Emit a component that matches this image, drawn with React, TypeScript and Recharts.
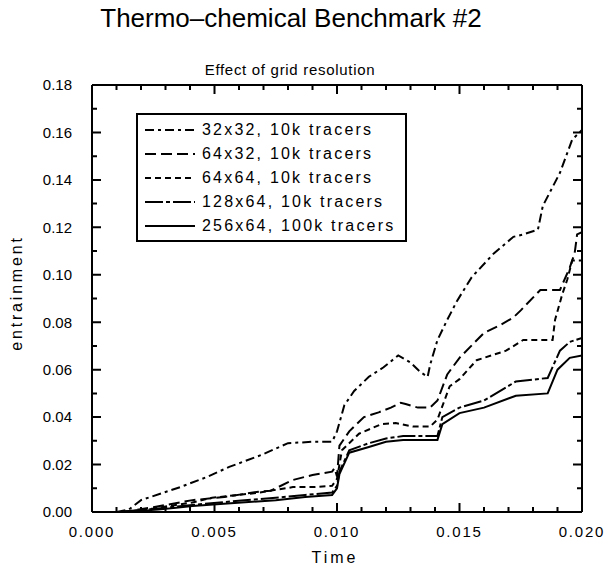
import { LineChart, Line, XAxis, YAxis } from "recharts";

// time values (s) and entrainment per run
const t32x32 = [0.001, 0.0015, 0.002, 0.0036, 0.0047, 0.0056, 0.0069, 0.008, 0.009, 0.0098, 0.01, 0.0103, 0.0107, 0.0113, 0.0119, 0.0125, 0.013, 0.0134, 0.0137, 0.0138, 0.0141, 0.0145, 0.0149, 0.0155, 0.0164, 0.0172, 0.0176, 0.0182, 0.0184, 0.0191, 0.0196, 0.02];
const v32x32 = [0, 0.001, 0.005, 0.0105, 0.0148, 0.019, 0.024, 0.029, 0.0296, 0.0296, 0.034, 0.045, 0.051, 0.057, 0.061, 0.066, 0.063, 0.059, 0.057, 0.062, 0.0725, 0.081, 0.089, 0.099, 0.109, 0.116, 0.117, 0.119, 0.129, 0.143, 0.157, 0.161];

const t64x32 = [0.0012, 0.0025, 0.0041, 0.0054, 0.0067, 0.0073, 0.0082, 0.009, 0.0098, 0.0099, 0.01, 0.0101, 0.0105, 0.0111, 0.0117, 0.0122, 0.0126, 0.0128, 0.0133, 0.0138, 0.0141, 0.0145, 0.015, 0.016, 0.0167, 0.0172, 0.0175, 0.0183, 0.0191, 0.0195, 0.0197, 0.0198, 0.02];
const v64x32 = [0, 0.002, 0.005, 0.0063, 0.0084, 0.009, 0.0135, 0.0156, 0.017, 0.0185, 0.015, 0.028, 0.034, 0.04, 0.042, 0.044, 0.046, 0.0455, 0.044, 0.044, 0.047, 0.058, 0.065, 0.0755, 0.079, 0.082, 0.085, 0.0936, 0.0936, 0.103, 0.109, 0.117, 0.118];

const t64x64 = [0.0012, 0.0025, 0.0041, 0.0049, 0.0067, 0.0082, 0.009, 0.0098, 0.01, 0.0102, 0.0109, 0.0118, 0.0124, 0.0131, 0.0138, 0.0141, 0.0146, 0.015, 0.0157, 0.0169, 0.0176, 0.0188, 0.0189, 0.0192, 0.0194, 0.0196, 0.02];
const v64x64 = [0, 0.0015, 0.004, 0.006, 0.008, 0.0105, 0.0105, 0.011, 0.014, 0.026, 0.033, 0.037, 0.0375, 0.036, 0.036, 0.039, 0.053, 0.056, 0.064, 0.068, 0.0725, 0.0725, 0.081, 0.092, 0.098, 0.106, 0.106];

const t128x64 = [0.0012, 0.0027, 0.0041, 0.0061, 0.0075, 0.0087, 0.0098, 0.01, 0.0101, 0.0105, 0.0113, 0.012, 0.0127, 0.0141, 0.0143, 0.015, 0.016, 0.0173, 0.0186, 0.0191, 0.0195, 0.02];
const v128x64 = [0, 0.0015, 0.003, 0.0048, 0.006, 0.0072, 0.0082, 0.011, 0.017, 0.026, 0.029, 0.031, 0.032, 0.032, 0.04, 0.044, 0.047, 0.055, 0.0565, 0.068, 0.0717, 0.0734];

const t256x64 = [0.0012, 0.0027, 0.0041, 0.0061, 0.0075, 0.0087, 0.0098, 0.01, 0.0101, 0.0105, 0.0113, 0.012, 0.0127, 0.0141, 0.0143, 0.015, 0.016, 0.0173, 0.0186, 0.019, 0.0195, 0.02];
const v256x64 = [0, 0.001, 0.0025, 0.004, 0.005, 0.0063, 0.0072, 0.01, 0.016, 0.025, 0.0274, 0.0296, 0.0304, 0.0304, 0.037, 0.0417, 0.044, 0.049, 0.05, 0.06, 0.065, 0.066];

// major (labelled) and minor tick positions
const xTicksMajor = [0, 0.005, 0.01, 0.015, 0.02];
const xTicksMinor = [0.001, 0.002, 0.003, 0.004, 0.006, 0.007, 0.008, 0.009, 0.011, 0.012, 0.013, 0.014, 0.016, 0.017, 0.018, 0.019];
const yTicksMajor = [0, 0.02, 0.04, 0.06, 0.08, 0.1, 0.12, 0.14, 0.16, 0.18];
const yTicksMinor = [0.01, 0.03, 0.05, 0.07, 0.09, 0.11, 0.13, 0.15, 0.17];

const X_MAX = 0.02;
const Y_MAX = 0.18;

// plot box that follows from the chart margins and 1px axes below
const PLOT = { left: 92, right: 582, top: 85, bottom: 512 };
const sx = (t: number) => PLOT.left + (t / X_MAX) * (PLOT.right - PLOT.left);
const sy = (v: number) => PLOT.bottom - (v / Y_MAX) * (PLOT.bottom - PLOT.top);

const pts = (ts: number[], vs: number[]) => ts.map((t, i) => ({ t, v: vs[i] }));

const series = [
  { name: "32x32, 10k tracers", data: pts(t32x32, v32x32), dash: "9 4 3 4" },
  { name: "64x32, 10k tracers", data: pts(t64x32, v64x32), dash: "11 5" },
  { name: "64x64, 10k tracers", data: pts(t64x64, v64x64), dash: "6 4" },
  { name: "128x64, 10k tracers", data: pts(t128x64, v128x64), dash: "18 3 4 3" },
  { name: "256x64, 100k tracers", data: pts(t256x64, v256x64), dash: undefined },
];

const font = "'Liberation Sans', Arial, sans-serif";
const xTickText = { fontSize: 15, fontFamily: font, fill: "#000", letterSpacing: 1.8 };
const yTickText = { fontSize: 15, fontFamily: font, fill: "#000" };
const axisLine = { stroke: "#000", strokeWidth: 2 };

// inward tick marks on all four sides
const TickMarks = () => {
  const xs = [...xTicksMajor.map((t) => [t, 9]), ...xTicksMinor.map((t) => [t, 5])];
  const ys = [...yTicksMajor.map((v) => [v, 9]), ...yTicksMinor.map((v) => [v, 5])];
  let d = "";
  xs.forEach(([t, len]) => {
    const x = sx(t);
    d += `M${x},${PLOT.bottom}v${-len}M${x},${PLOT.top}v${len}`;
  });
  ys.forEach(([v, len]) => {
    const y = sy(v);
    d += `M${PLOT.left},${y}h${len}M${PLOT.right},${y}h${-len}`;
  });
  return (
    <svg width={609} height={573} style={{ position: "absolute", left: 0, top: 0, pointerEvents: "none" }}>
      <path d={d} stroke="#000" strokeWidth={2} fill="none" />
    </svg>
  );
};

const LegendBox = () => (
  <div style={{ position: "absolute", left: 136, top: 113, border: "2px solid #000", background: "#fff", paddingTop: 3, boxSizing: "border-box", width: 271, height: 129 }}>
    {series.map((s) => (
      <div key={s.name} style={{ display: "flex", alignItems: "center", height: 24 }}>
        <svg width={57} height={10} style={{ marginLeft: 7 }}>
          <line x1={0} y1={5} x2={50} y2={5} stroke="#000" strokeWidth={2} strokeDasharray={s.dash} />
        </svg>
        <span style={{ fontFamily: font, fontSize: 16, letterSpacing: 2.2, color: "#000", whiteSpace: "nowrap" }}>{s.name}</span>
      </div>
    ))}
  </div>
);

export default function App() {
  return (
    <div style={{ position: "absolute", left: 0, top: 0, width: 609, height: 573, background: "#fff" }}>
      <div style={{ position: "absolute", left: 0, width: 582, top: 3, textAlign: "center", fontFamily: font, fontSize: 26, color: "#000" }}>
        Thermo–chemical Benchmark #2
      </div>
      <div style={{ position: "absolute", left: 190, width: 200, top: 61, textAlign: "center", fontFamily: font, fontSize: 15, letterSpacing: 0.7, color: "#000", whiteSpace: "nowrap" }}>
        Effect of grid resolution
      </div>
      <div style={{ position: "absolute", left: 335 - 50, width: 100, top: 549, textAlign: "center", fontFamily: font, fontSize: 16, letterSpacing: 3, color: "#000" }}>
        Time
      </div>
      <div style={{ position: "absolute", left: 17 - 70, width: 140, top: 284, textAlign: "center", fontFamily: font, fontSize: 16, letterSpacing: 2.8, color: "#000", transform: "rotate(-90deg)", whiteSpace: "nowrap" }}>
        entrainment
      </div>
      <LineChart width={609} height={573} margin={{ top: 84, right: 26, bottom: 60, left: 91 }}>
        <XAxis xAxisId="b" dataKey="t" type="number" domain={[0, X_MAX]} ticks={xTicksMajor} interval={0} height={1} tickSize={0} tickMargin={14} tickLine={false} axisLine={axisLine} tick={xTickText} tickFormatter={(v: number) => v.toFixed(3)} allowDataOverflow />
        <XAxis xAxisId="t" orientation="top" dataKey="t" type="number" domain={[0, X_MAX]} ticks={xTicksMajor} interval={0} height={1} tickLine={false} axisLine={axisLine} tick={false} allowDataOverflow />
        <YAxis yAxisId="l" type="number" domain={[0, Y_MAX]} ticks={yTicksMajor} interval={0} width={1} tickSize={0} tickMargin={20} tickLine={false} axisLine={axisLine} tick={yTickText} tickFormatter={(v: number) => v.toFixed(2)} allowDataOverflow />
        <YAxis yAxisId="r" orientation="right" type="number" domain={[0, Y_MAX]} ticks={yTicksMajor} interval={0} width={1} tickLine={false} axisLine={axisLine} tick={false} allowDataOverflow />
        {series.map((s) => (
          <Line key={s.name} xAxisId="b" yAxisId="l" name={s.name} data={s.data} dataKey="v" type="linear" stroke="#000" strokeWidth={2} strokeDasharray={s.dash} dot={false} activeDot={false} isAnimationActive={false} />
        ))}
      </LineChart>
      <TickMarks />
      <LegendBox />
    </div>
  );
}
